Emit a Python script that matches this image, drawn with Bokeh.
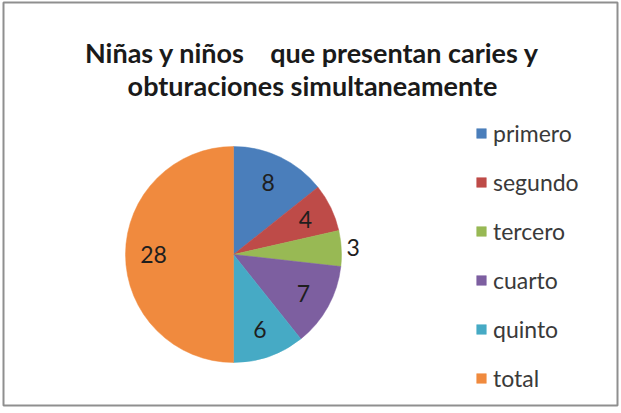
import numpy as np
from bokeh.plotting import figure
from bokeh.models import Range1d, ColumnDataSource, Label, Legend, LegendItem
from bokeh.embed import file_html
from bokeh.resources import INLINE
from bokeh.core.properties import value

# ---- data ----
categories = ["primero", "segundo", "tercero", "cuarto", "quinto", "total"]
counts = [8, 4, 3, 7, 6, 28]
colors = ["#4A7EBB", "#BE4B48", "#98B954", "#7D5FA0", "#46AAC5", "#F08A3E"]
title_lines = ["Niñas y niños\u00a0\u00a0\u00a0 que presentan caries y",
               "obturaciones simultaneamente"]

W, H = 620, 408
p = figure(width=W, height=H, output_backend="svg", toolbar_location=None,
           x_range=Range1d(3, 617), y_range=Range1d(H - 405, H - 2),
           min_border_left=3, min_border_right=3, min_border_top=2, min_border_bottom=3,
           background_fill_color="white", border_fill_color="white")
p.axis.visible = False
p.xgrid.visible = False
p.ygrid.visible = False
p.outline_line_color = "#8f8f8f"
p.outline_line_width = 2

cx, cy, r = 233, H - 254, 108

vals = np.array(counts, dtype=float)
frac = vals / vals.sum()
cum = np.concatenate([[0], np.cumsum(frac)])
start = np.pi / 2 - cum[:-1] * 2 * np.pi
end = np.pi / 2 - cum[1:] * 2 * np.pi
mid = (start + end) / 2
lab_r = np.where(frac < 0.06, 1.11, 0.74) * r
lx = cx + lab_r * np.cos(mid)
ly = cy + lab_r * np.sin(mid)

src = ColumnDataSource(dict(cat=categories, val=counts, color=colors,
                            start=start, end=end,
                            lx=lx, ly=ly, txt=[str(v) for v in counts]))

wr = p.wedge(x=cx, y=cy, radius=r, radius_units="screen",
             start_angle="start", end_angle="end", direction="clock",
             fill_color="color", line_color="color", line_width=0.5, source=src)

p.text(x="lx", y="ly", text="txt", source=src, text_align="center",
       text_baseline="middle", text_font=value("Lato"), text_font_size="23px",
       text_color="#1e1e1e")

# title
baselines = [52, 85]
for line, b in zip(title_lines, baselines):
    p.add_layout(Label(x=312, y=H - b, text=line, text_align="center",
                       text_baseline="alphabetic", text_font="Lato", text_font_style="bold",
                       text_font_size="27px", text_color="#1a1a1a"))

items = [LegendItem(label=c, renderers=[wr], index=i) for i, c in enumerate(categories)]
legend = Legend(items=items, location=(472, 13), orientation="vertical",
                glyph_width=12, glyph_height=12, label_height=28, spacing=21,
                label_standoff=6, padding=0, margin=0, border_line_color=None,
                background_fill_alpha=0, label_text_font="Lato",
                label_text_font_size="23px", label_text_color="#3a3a3a")
p.add_layout(legend, "center")

open("out.html", "w").write(file_html(p, INLINE))
